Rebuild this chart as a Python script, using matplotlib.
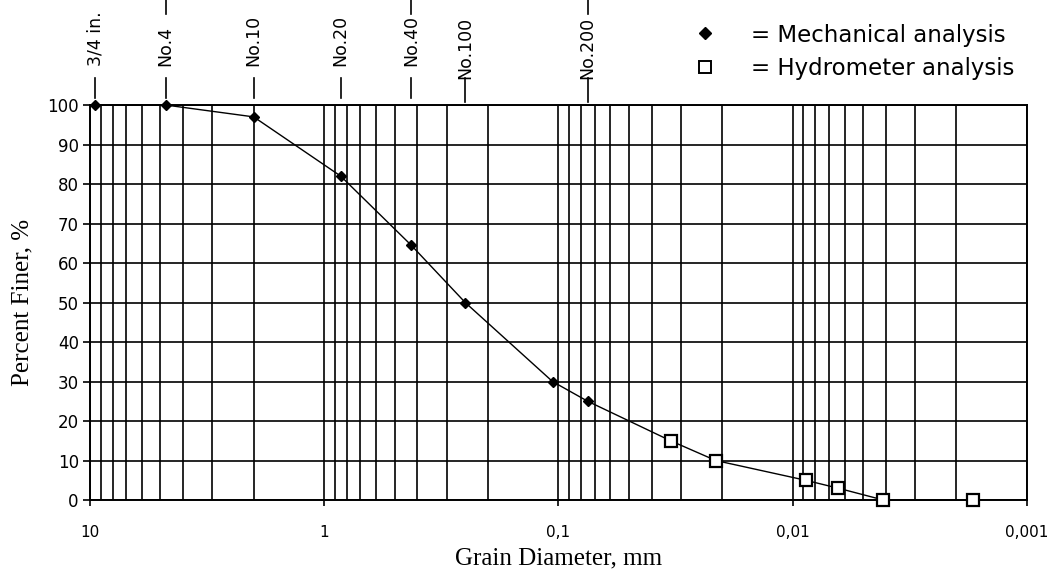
import numpy as np
import matplotlib.pyplot as plt
from matplotlib.lines import Line2D
import matplotlib.transforms as mtransforms

# mechanical (sieve) analysis
mech_d = [9.5, 4.75, 2.0, 0.85, 0.425, 0.25, 0.106, 0.075]
mech_p = [100, 100, 97, 82, 64.5, 50, 30, 25]
# hydrometer analysis
hyd_d = [0.0332, 0.0213, 0.0088, 0.0064, 0.0041, 0.0017]
hyd_p = [15, 10, 5, 3, 0, 0]

sieve_labels = ["3/4 in.", "No.4", "No.10", "No.20", "No.40", "No.100", "No.200"]
sieve_d = [9.5, 4.75, 2.0, 0.85, 0.425, 0.25, 0.075]

xticks = [10, 1, 0.1, 0.01, 0.001]
xtick_labels = ["10", "1", "0,1", "0,01", "0,001"]
yticks = list(range(0, 101, 10))

fig = plt.figure(figsize=(10.57, 5.79), dpi=100)
ax = fig.add_axes([0.0851, 0.1364, 0.8865, 0.6822])

ax.set_xscale("log")
ax.set_xlim(10, 0.001)
ax.set_ylim(0, 100)

# log grid
minor = []
for dec in [1, 0.1, 0.01, 0.001]:
	for k in range(2, 10):
		minor.append(dec * k)
ax.set_xticks(xticks)
ax.set_xticklabels(xtick_labels)
ax.set_xticks(minor, minor=True)
ax.set_xticklabels([], minor=True)
ax.set_yticks(yticks)
ax.grid(True, which="both", axis="x", color="black", lw=1.2)
ax.grid(True, which="major", axis="y", color="black", lw=1.2)
ax.tick_params(axis="x", which="major", length=4, width=1.2, pad=14, labelsize=11)
ax.tick_params(axis="x", which="minor", length=0)
ax.tick_params(axis="y", length=5, width=1.2, pad=3, labelsize=12)
for s in ax.spines.values():
	s.set_linewidth(1.4)

# curve through all points
all_d = mech_d + hyd_d
all_p = mech_p + hyd_p
ax.plot(all_d, all_p, color="black", lw=1.0, clip_on=False, zorder=3)
ax.plot(mech_d, mech_p, "D", color="black", ms=5, clip_on=False, zorder=4)
ax.plot(hyd_d, hyd_p, "s", mfc="white", mec="black", mew=1.6, ms=9, clip_on=False, zorder=4)

ax.set_xlabel("Grain Diameter, mm", family="Liberation Serif", fontsize=18, labelpad=5)
ax.set_ylabel("Percent Finer, %", family="Liberation Serif", fontsize=18, labelpad=10)

# sieve labels on top
trans = mtransforms.blended_transform_factory(ax.transData, ax.transAxes)
for lab, d in zip(sieve_labels, sieve_d):
	if lab in ("No.100", "No.200"):
		ax.text(d, 1.065, lab, rotation=90, ha="center", va="bottom", fontsize=12.5, transform=trans)
		ax.plot([d, d], [1.008, 1.068], color="black", lw=1.2, transform=trans, clip_on=False)
	else:
		ax.text(d, 1.10, lab, rotation=90, ha="center", va="bottom", fontsize=12.5, transform=trans)
		ax.plot([d, d], [1.018, 1.068], color="black", lw=1.2, transform=trans, clip_on=False)
	if lab in ("No.4", "No.40", "No.200"):
		ax.plot([d, d], [1.23, 1.3], color="black", lw=1.2, transform=trans, clip_on=False)

handles = [
	Line2D([], [], ls="none", marker="D", color="black", ms=6.5),
	Line2D([], [], ls="none", marker="s", mfc="white", mec="black", mew=1.4, ms=8),
]
fig.legend(handles, ["= Mechanical analysis", "= Hydrometer analysis"],
	loc="upper left", bbox_to_anchor=(0.637, 0.995), frameon=False,
	fontsize=16.5, handlelength=1.0, handletextpad=1.5, labelspacing=0.45)

fig.savefig("out.png", dpi=100)
